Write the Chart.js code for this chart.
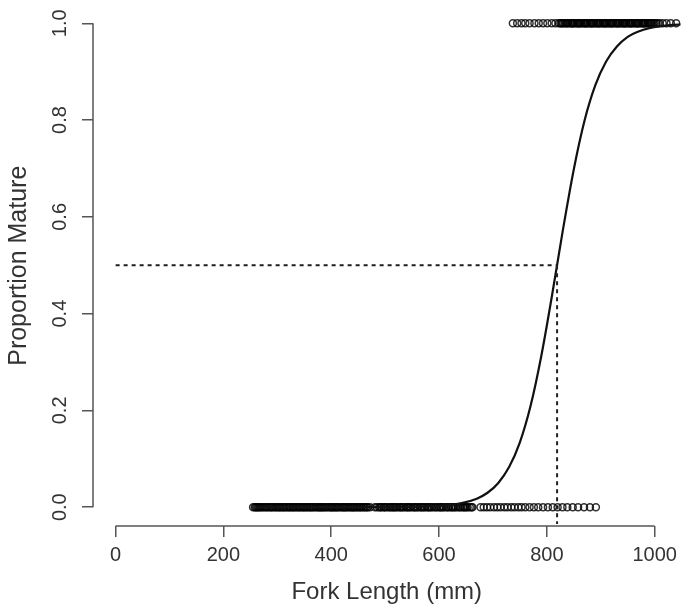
<!DOCTYPE html>
<html>
<head>
<meta charset="utf-8">
<script src="https://cdn.jsdelivr.net/npm/chart.js@4.4.1/dist/chart.umd.min.js"></script>
<style>
  html, body { margin: 0; padding: 0; background: #fff; }
  #wrap { width: 686px; height: 611px; }
</style>
</head>
<body>
<div id="wrap"><canvas id="chart" width="686" height="611"></canvas></div>
<script>
// axis ticks
const xTicks = [0, 200, 400, 600, 800, 1000];
const yTicks = [0, 0.2, 0.4, 0.6, 0.8, 1.0];
const yTickLabels = ['0.0', '0.2', '0.4', '0.6', '0.8', '1.0'];

// fork lengths (mm) of immature (0) and mature (1) fish
const immatureLengths = [255, 258, 260, 262, 264, 266, 268, 271, 273, 276, 279, 281, 284, 287, 289, 291, 294, 297, 299, 302,
  304, 306, 309, 311, 313, 316, 318, 321, 323, 325, 328, 330, 332, 335, 337, 340, 342, 344, 347, 349,
  351, 354, 356, 359, 361, 363, 366, 368, 371, 374, 376, 378, 380, 382, 384, 386, 389, 391, 394, 397,
  399, 401, 403, 405, 408, 409, 412, 414, 417, 420, 422, 424, 426, 428, 431, 433, 436, 438, 440, 442,
  444, 447, 449, 452, 454, 456, 459, 461, 464, 466, 468, 472, 481, 485, 489, 491, 493, 497, 499, 501,
  505, 508, 510, 513, 515, 517, 520, 522, 526, 528, 530, 533, 535, 539, 541, 543, 546, 548, 552, 554,
  556, 559, 561, 565, 567, 569, 572, 574, 578, 580, 582, 585, 587, 591, 594, 596, 600, 602, 604, 607,
  609, 613, 616, 618, 622, 624, 626, 629, 631, 635, 638, 640, 644, 646, 648, 651, 653, 657, 660, 662,
  677, 683, 689, 695, 702, 708, 714, 721, 727, 734, 740, 747, 753, 760, 768, 776, 784, 793, 802, 811,
  820, 829, 838, 848, 858, 869, 880, 891];
const matureLengths = [737, 745, 753, 760, 768, 777, 785, 793, 801, 809, 816, 822, 825, 827, 829, 831, 834, 836, 838, 840,
  843, 845, 847, 848, 850, 852, 855, 857, 859, 860, 862, 864, 867, 869, 871, 872, 874, 876, 879, 881,
  883, 884, 886, 888, 891, 893, 895, 896, 898, 900, 903, 905, 907, 908, 910, 912, 915, 917, 919, 920,
  922, 924, 927, 929, 931, 932, 934, 936, 939, 941, 943, 944, 946, 948, 951, 953, 955, 956, 958, 960,
  963, 965, 967, 968, 970, 972, 975, 977, 979, 980, 982, 984, 987, 989, 991, 993, 995, 998, 1000, 1003,
  1006, 1009, 1015, 1022, 1030, 1040];

// fitted maturity curve
const curveLengths = [260, 400, 500, 600, 640, 670, 690, 710, 730, 750, 770, 790, 810, 830, 850, 870, 890, 910, 930, 950, 970, 990, 1010, 1050];
const curveProportion = [0.000, 0.000, 0.0002, 0.0027, 0.0079, 0.0176, 0.0298, 0.0501, 0.0829, 0.134, 0.210, 0.314, 0.440, 0.574,
  0.698, 0.799, 0.872, 0.921, 0.952, 0.972, 0.983, 0.990, 0.994, 0.998];

// length at 50% maturity
const l50 = 819;
const l50Proportion = 0.5;

const FONT = '"Liberation Sans", Arial, Helvetica, sans-serif';
const TEXT = '#333';
const AXIS = '#555';

const rAxes = {
  id: 'rAxes',
  afterDraw(chart) {
    const { ctx, scales: { x, y } } = chart;
    ctx.save();
    ctx.strokeStyle = AXIS;
    ctx.lineWidth = 1.5;
    ctx.beginPath();
    ctx.moveTo(x.getPixelForValue(xTicks[0]), x.top);
    ctx.lineTo(x.getPixelForValue(xTicks[xTicks.length - 1]), x.top);
    ctx.moveTo(y.right, y.getPixelForValue(yTicks[0]));
    ctx.lineTo(y.right, y.getPixelForValue(yTicks[yTicks.length - 1]));
    ctx.stroke();

    // R-style vertical tick labels
    ctx.fillStyle = TEXT;
    ctx.font = '20px ' + FONT;
    ctx.textAlign = 'center';
    ctx.textBaseline = 'middle';
    yTicks.forEach((v, i) => {
      ctx.save();
      ctx.translate(60, y.getPixelForValue(v));
      ctx.rotate(-Math.PI / 2);
      ctx.fillText(yTickLabels[i], 0, 0);
      ctx.restore();
    });
    ctx.restore();
  }
};

const gridOpts = { drawOnChartArea: false, drawTicks: true, tickLength: 11, color: AXIS, lineWidth: 1.5 };

new Chart(document.getElementById('chart'), {
  data: {
    datasets: [
      {
        type: 'line',
        data: [{ x: 0, y: l50Proportion }, { x: l50, y: l50Proportion }],
        borderColor: '#222',
        borderWidth: 2,
        borderDash: [4, 4],
        pointRadius: 0
      },
      {
        type: 'line',
        data: [{ x: l50, y: l50Proportion }, { x: l50, y: -0.035 }],
        borderColor: '#222',
        borderWidth: 2,
        borderDash: [4, 4],
        pointRadius: 0
      },
      {
        type: 'line',
        data: curveLengths.map((v, i) => ({ x: v, y: curveProportion[i] })),
        borderColor: '#111',
        borderWidth: 2.2,
        pointRadius: 0,
        cubicInterpolationMode: 'monotone'
      },
      {
        type: 'scatter',
        data: immatureLengths.map(v => ({ x: v, y: 0 }))
          .concat(matureLengths.map(v => ({ x: v, y: 1 }))),
        pointStyle: 'circle',
        pointRadius: 3.5,
        borderWidth: 1.5,
        borderColor: 'rgba(0,0,0,0.8)',
        backgroundColor: 'rgba(0,0,0,0)'
      }
    ]
  },
  options: {
    responsive: false,
    animation: false,
    devicePixelRatio: 1,
    layout: { padding: 0 },
    plugins: { legend: { display: false }, tooltip: { enabled: false } },
    scales: {
      x: {
        type: 'linear',
        min: -42,
        max: 1048,
        bounds: 'data',
        afterBuildTicks: s => { s.ticks = xTicks.map(v => ({ value: v })); },
        afterFit: s => { s.height = 85; },
        grid: gridOpts,
        border: { display: false },
        ticks: { color: TEXT, font: { family: FONT, size: 20 }, padding: 6, maxRotation: 0, callback: v => String(v) },
        title: { display: true, text: 'Fork Length (mm)', color: TEXT, font: { family: FONT, size: 24 }, padding: { top: 0, bottom: 4 } }
      },
      y: {
        type: 'linear',
        min: -0.0389,
        max: 1.0368,
        bounds: 'data',
        afterBuildTicks: s => { s.ticks = yTicks.map(v => ({ value: v })); },
        afterFit: s => { s.width = 93; },
        grid: gridOpts,
        border: { display: false },
        ticks: { display: false },
        title: { display: true, text: 'Proportion Mature', color: TEXT, font: { family: FONT, size: 25 }, padding: { top: 4, bottom: 0 } }
      }
    }
  },
  plugins: [rAxes]
});
</script>
</body>
</html>
